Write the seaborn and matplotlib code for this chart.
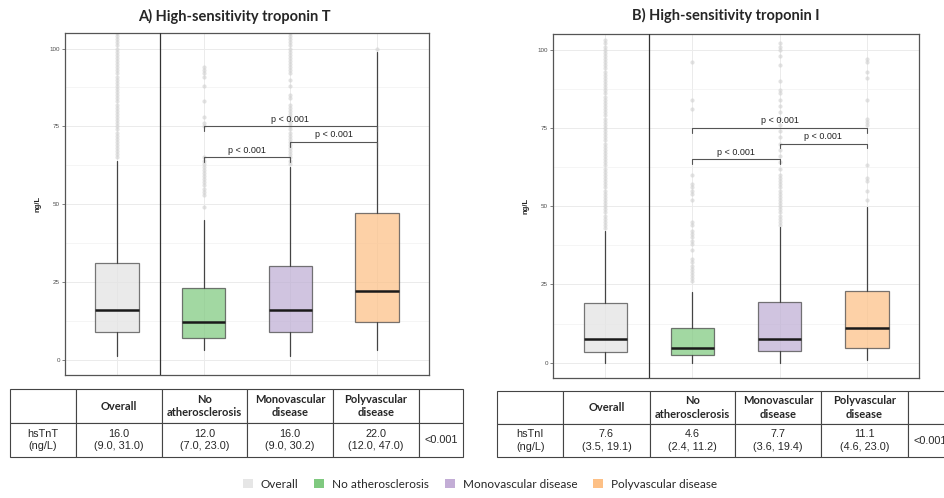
import numpy as np
import pandas as pd
import matplotlib
matplotlib.use("Agg")
import matplotlib.pyplot as plt
import matplotlib.patches as mpatches
import seaborn as sns

sns.set_theme(style="white")
plt.rcParams["font.family"] = ["Liberation Sans", "DejaVu Sans"]

GROUPS = ["Overall", "No atherosclerosis", "Monovascular disease", "Polyvascular disease"]
FILLS = ["#E3E3E3", "#7FC97F", "#BEAED4", "#FDC086"]
LEGEND_FILLS = ["#E6E6E6", "#7FC97F", "#C3ADD6", "#FDC086"]

# ── hsTnT box stats (whislo, q1, median, q3, whishi) ─────────────
tnt_low = [1.2, 3.1, 1.2, 3.1]
tnt_q1 = [9.0, 7.0, 9.0, 12.0]
tnt_med = [16.0, 12.0, 16.0, 22.0]
tnt_q3 = [31.0, 23.0, 30.2, 47.0]
tnt_high = [64.0, 45.0, 62.0, 99.0]
tnt_out = [
    list(range(65, 106)),
    [49, 53, 54, 55, 56, 57, 58, 59, 60, 61, 62, 63, 64, 65, 75, 76, 78, 83, 88, 91, 92, 93, 94],
    [63, 64, 65, 66, 67, 68, 69, 70, 71, 72, 73, 74, 75, 76, 77, 78, 79, 80, 81, 82, 84, 85,
     88, 90, 92, 93, 94, 95, 96, 97, 98, 99, 100, 101, 102, 103, 104, 105],
    [100],
]

# ── hsTnI box stats ──────────────────────────────────────────────
tni_low = [0.0, 0.0, 0.0, 0.8]
tni_q1 = [3.5, 2.4, 3.6, 4.6]
tni_med = [7.6, 4.6, 7.7, 11.1]
tni_q3 = [19.1, 11.2, 19.4, 23.0]
tni_high = [42.0, 22.7, 43.4, 49.6]
tni_out = [
    list(range(43, 104)),
    [26, 27, 28, 29, 30, 31, 32, 33, 36, 38, 39, 40, 41, 42, 44, 45, 52, 54, 55, 56, 57, 60, 81, 84, 96],
    [44, 45, 46, 47, 48, 49, 50, 51, 52, 53, 54, 55, 56, 57, 58, 59, 60, 62, 64, 66, 68, 70,
     72, 74, 76, 78, 80, 82, 84, 86, 87, 90, 95, 98, 100, 101, 102],
    [52, 55, 58, 59, 63, 76, 77, 78, 84, 91, 93, 96, 97],
]

# significance brackets (group i, group j, height)
sig_pairs = [(1, 2, 65), (2, 3, 70), (1, 3, 75)]
sig_label = "p < 0.001"

# ── table contents ───────────────────────────────────────────────
table_header = ["", "Overall", "No\natherosclerosis", "Monovascular\ndisease", "Polyvascular\ndisease", ""]
tnt_row = ["hsTnT\n(ng/L)", "16.0\n(9.0, 31.0)", "12.0\n(7.0, 23.0)", "16.0\n(9.0, 30.2)",
           "22.0\n(12.0, 47.0)", "<0.001"]
tni_row = ["hsTnI\n(ng/L)", "7.6\n(3.5, 19.1)", "4.6\n(2.4, 11.2)", "7.7\n(3.6, 19.4)",
           "11.1\n(4.6, 23.0)", "<0.001"]
col_w = [66, 86, 85, 86, 86, 44]


def draw_panel(ax, low, q1, med, q3, high, outs):
    # outliers
    long = pd.DataFrame({
        "group": [g for g, o in zip(GROUPS, outs) for _ in o],
        "value": [v for o in outs for v in o],
    })
    sns.stripplot(data=long, x="group", y="value", order=GROUPS, jitter=False,
                  color="#CFCFCF", size=3.0, alpha=0.6, linewidth=0, ax=ax, zorder=2)
    stats = [dict(whislo=a, q1=b, med=c, q3=d, whishi=e, fliers=[])
             for a, b, c, d, e in zip(low, q1, med, q3, high)]
    bp = ax.bxp(stats, positions=range(len(GROUPS)), widths=0.5, patch_artist=True,
                showfliers=False, showcaps=False,
                boxprops=dict(edgecolor="#444444", linewidth=0.9),
                whiskerprops=dict(color="#444444", linewidth=0.9),
                medianprops=dict(color="#1A1A1A", linewidth=1.8), manage_ticks=False)
    for patch, col in zip(bp["boxes"], FILLS):
        patch.set_facecolor(col)
        patch.set_alpha(0.72)
        patch.set_edgecolor("#444444")
    for x1, x2, y in sig_pairs:
        ax.plot([x1, x1, x2, x2], [y - 1.5, y, y, y - 1.5], color="#555555", lw=0.8, zorder=3)
        ax.text((x1 + x2) / 2, y + 0.8, sig_label, ha="center", va="bottom", fontsize=6.5,
                color="#222222")
    ax.axvline(0.5, color="#333333", lw=0.9, zorder=3)
    ax.set_xlim(-0.6, 3.6)
    ax.set_ylim(-4.9, 105)
    ax.set_yticks([0, 25, 50, 75, 100])
    ax.set_yticks([12.5, 37.5, 62.5, 87.5], minor=True)
    ax.set_xticks(range(len(GROUPS)))
    ax.set_xticklabels([])
    ax.grid(True, which="major", color="#EBEBEB", lw=0.7)
    ax.grid(True, which="minor", axis="y", color="#F2F2F2", lw=0.5)
    ax.set_axisbelow(True)
    ax.tick_params(axis="y", which="major", labelsize=4.5, labelcolor="#4D4D4D", length=2,
                   color="#4D4D4D", width=0.5, left=True, pad=1.5)
    ax.tick_params(axis="y", which="minor", length=0)
    ax.tick_params(axis="x", length=0)
    ax.set_xlabel("")
    ax.set_ylabel("ng/L", fontsize=5.5, fontweight="bold", labelpad=6)
    for s in ax.spines.values():
        s.set_color("#555555")
        s.set_linewidth(0.9)


def draw_table(ax, row):
    ax.axis("off")
    tab = ax.table(cellText=[table_header, row], colWidths=[w / sum(col_w) for w in col_w],
                   cellLoc="center", bbox=[0, 0, 1, 1])
    tab.auto_set_font_size(False)
    for (r, c), cell in tab.get_celld().items():
        cell.set_edgecolor("#444444")
        cell.set_linewidth(0.8)
        txt = cell.get_text()
        if r == 0:
            txt.set_fontfamily("Lato")
            txt.set_fontweight("bold")
            txt.set_fontsize(8)
        else:
            txt.set_fontsize(7.8)
        txt.set_linespacing(1.3)


fig = plt.figure(figsize=(9.44, 4.98), dpi=100)

ax1 = fig.add_axes([65 / 944, 1 - 375 / 498, 364 / 944, 342 / 498])
draw_panel(ax1, tnt_low, tnt_q1, tnt_med, tnt_q3, tnt_high, tnt_out)
ax2 = fig.add_axes([553 / 944, 1 - 378 / 498, 366 / 944, 344 / 498])
draw_panel(ax2, tni_low, tni_q1, tni_med, tni_q3, tni_high, tni_out)

fig.text(234 / 944, 1 - 16 / 498, "A) High-sensitivity troponin T", ha="center", va="center",
         fontsize=10.5, fontweight="bold", family="Lato")
fig.text(726 / 944, 1 - 15 / 498, "B) High-sensitivity troponin I", ha="center", va="center",
         fontsize=10.5, fontweight="bold", family="Lato")

t1 = fig.add_axes([10 / 944, 1 - 457 / 498, 453 / 944, 68 / 498])
draw_table(t1, tnt_row)
t2 = fig.add_axes([497 / 944, 1 - 457 / 498, 455 / 944, 66 / 498])
draw_table(t2, tni_row)

handles = [mpatches.Patch(facecolor=c, edgecolor="none", label=g) for g, c in zip(GROUPS, LEGEND_FILLS)]
fig.legend(handles=handles, ncol=4, loc="center", bbox_to_anchor=(480 / 944, 1 - 484 / 498),
           frameon=False, handlelength=0.85, handleheight=0.85, handletextpad=0.7,
           columnspacing=1.3, prop={"family": "Lato", "size": 8.5})

fig.savefig("out.png", dpi=100, facecolor="white")
